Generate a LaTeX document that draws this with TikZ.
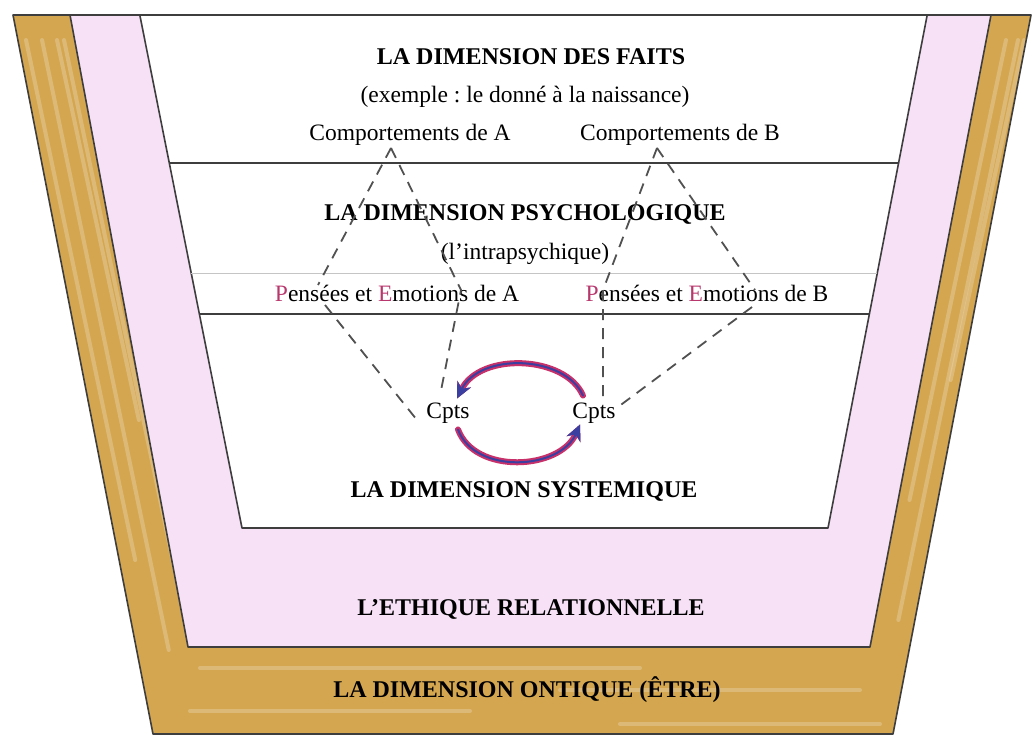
\documentclass[tikz,border=0pt]{standalone}
\usepackage{fontspec}
\setmainfont{Liberation Serif}
\usetikzlibrary{arrows.meta}
\definecolor{ochre}{HTML}{D4A650}
\definecolor{lilac}{HTML}{F7E1F7}
\definecolor{pencil}{HTML}{3E3E3E}
\definecolor{hilite}{HTML}{B8386E}
\definecolor{loopred}{HTML}{C8306A}
\definecolor{loopblue}{HTML}{3A3FA0}
\newcommand{\hl}[1]{{\color{hilite}#1}}
\tikzset{
  frame/.style={draw=pencil, line width=1.6pt, line join=round},
  layer/.style={font=\bfseries\fontsize{24}{28}\selectfont, inner sep=0pt},
  term/.style={font=\fontsize{23.5}{28}\selectfont, inner sep=0pt},
  link/.style={draw=pencil!90, line width=1.8pt, dash pattern=on 11pt off 8pt},
  streak/.style={draw=ochre!50!white, line width=4pt, opacity=0.45, line cap=round},
  cyclearc/.style={line width=#1, line cap=round,
    -{Stealth[length=16pt,width=15pt,inset=5pt]}},
}
\begin{document}
\begin{tikzpicture}[x=1pt,y=-1pt]
  \newcommand{\cycleArc}[1]{
    \draw[cyclearc=6pt, loopred] #1;
    \draw[cyclearc=2pt, loopblue] #1;
  }
\fill[white] (0,0) rectangle (1032,738);
\useasboundingbox (0,0) rectangle (1032,738);
% coloured bands
\fill[ochre, even odd rule] (13,15) -- (1031,15) -- (893,734) -- (153,734) -- cycle
  (70,15) -- (991,15) -- (870,647) -- (188,647) -- cycle;
\fill[lilac, even odd rule] (70,15) -- (991,15) -- (870,647) -- (188,647) -- cycle
  (140,16) -- (927,16) -- (828,528) -- (242,528) -- cycle;
% marker streaks
\begin{scope}[even odd rule]
  \clip (13,15) -- (1031,15) -- (893,734) -- (153,734) -- cycle
    (70,15) -- (991,15) -- (870,647) -- (188,647) -- cycle;
  \foreach \x/\y in {26/560,42/650,57/420,64/600} \draw[streak] (\x,40) -- (\x+0.195*\y,\y);
  \foreach \x/\y in {1006/500,1018/620,1024/380} \draw[streak] (\x,40) -- (\x-0.193*\y,\y);
  \foreach \y/\a/\b in {668/200/640,690/560/860,711/190/470,724/620/880} \draw[streak] (\a,\y) -- (\b,\y);
\end{scope}
% pencil outlines
\draw[frame] (1031,15) -- (13,15) -- (153,734) -- (893,734) -- cycle;
\draw[frame] (70,15) -- (188,647) -- (870,647) -- (991,15);
\draw[frame] (140,16) -- (242,528) -- (828,528) -- (927,16);
\draw[frame] (169,163) -- (898,163);
\draw[frame, draw=pencil!30, line width=1pt] (191,273) -- (877,273);
\draw[frame] (199,314) -- (869,314);
% texts
\frenchspacing
\node[layer] (faits) at (531,57) {LA DIMENSION DES FAITS};
\node[term] (exemple) at (525,97) {(exemple : le donné à la naissance)};
\node[term] (compA) at (410,135) {Comportements de A};
\node[term] (compB) at (680,135) {Comportements de B};
\node[layer] (psycho) at (525,214) {LA DIMENSION PSYCHOLOGIQUE};
\node[term] (intra) at (525,254) {(l’intrapsychique)};
\node[term] (pensA) at (397,293) {\hl{P}ensées et \hl{E}motions de A};
\node[term] (pensB) at (707,293) {\hl{P}ensées et \hl{E}motions de B};
\node[term] (cptsA) at (448,413) {Cpts};
\node[term] (cptsB) at (594,413) {Cpts};
\node[layer] (systeme) at (524,491) {LA DIMENSION SYSTEMIQUE};
\node[layer] (ethique) at (531,609) {L’ETHIQUE RELATIONNELLE};
\node[layer] (ontique) at (527,690) {LA DIMENSION ONTIQUE (ÊTRE)};
% dashed links of A
\coordinate (topA) at (391,148);
\coordinate (leftA) at (318,285);
\coordinate (leftA2) at (325,305);
\coordinate (rightA) at (461,290);
\draw[link] (topA) -- (leftA);
\draw[link] (leftA2) -- ([shift={(-33pt,-15pt)}]cptsA.north);
\draw[link] (topA) -- (rightA) -- ([shift={(-8pt,7pt)}]cptsA.north);
% dashed links of B
\coordinate (topB) at (657,148);
\coordinate (leftB) at (603,290);
\coordinate (rightB) at (755,290);
\coordinate (rightB2) at (752,307);
\draw[link] (topB) -- (leftB) -- ([shift={(9pt,2pt)}]cptsB.north);
\draw[link] (topB) -- (rightB);
\draw[link] (rightB2) -- ([shift={(26pt,-3pt)}]cptsB.north);
% the loop between the two Cpts
\cycleArc{([shift={(-11pt,7pt)}]cptsB.north) .. controls (565,355) and (480,352) .. ([shift={(9pt,4pt)}]cptsA.north)}
\cycleArc{([shift={(10pt,-6pt)}]cptsA.south) .. controls (475,475) and (560,470) .. ([shift={(-14pt,-1pt)}]cptsB.south)}
\end{tikzpicture}
\end{document}
